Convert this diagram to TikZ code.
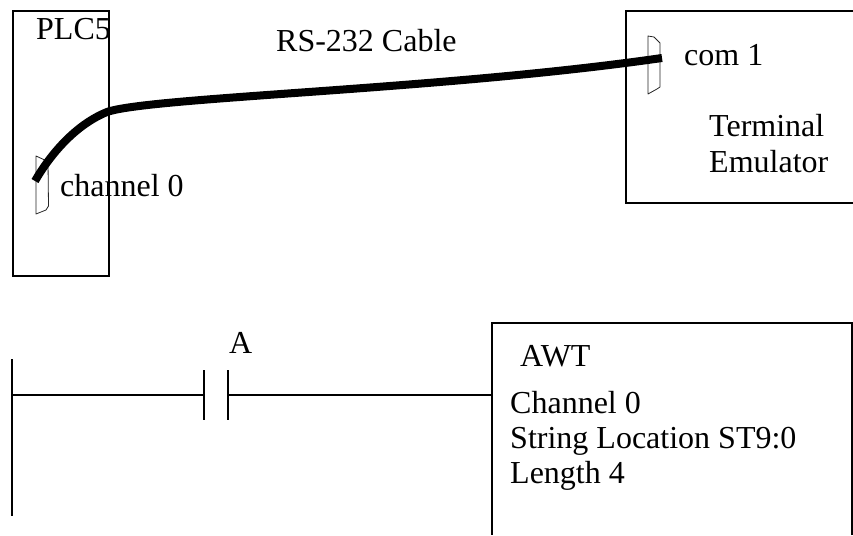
\documentclass[tikz,border=0pt]{standalone}
\usepackage{fontspec}
\setmainfont{Liberation Serif}
\tikzset{
  wire/.style={line width=2pt,line cap=butt},
  conn/.style={line width=0.8pt,line join=round,draw=black!85},
  cable/.style={line width=8pt,line cap=butt},
  lbl/.style={inner sep=0pt,anchor=base west,font=\fontsize{32}{38}\selectfont},
}
\begin{document}
\begin{tikzpicture}[x=1pt,y=-1pt]
\useasboundingbox (0,0) rectangle (853,535);
% PLC box
\node[draw,wire,anchor=north west,minimum width=96pt,minimum height=264pt,inner sep=0pt] (plc) at (11.5,10.5) {};
% terminal box (runs off the page)
\coordinate (t1) at (853,11);
\coordinate (t2) at (626,11);
\coordinate (t3) at (626,202.5);
\coordinate (t4) at (853,202.5);
\draw[wire] (t1) -- (t2) -- (t3) -- (t4);
% connectors
\draw[conn] (36,156) -- (48,161.5) -- (48.5,206) -- (46,210) -- (36,214) -- cycle;
\draw[conn] (648,36) -- (654,37) -- (660,43) -- (660,87) -- (657,89) -- (648,94) -- cycle;
% cable
\coordinate (ca) at (35,181);
\coordinate (cb) at (662,58);
\draw[cable] (ca) .. controls (50,155) and (75,125) .. (107,112)
  .. controls (150,97) and (440,90) .. (cb);
% labels
\node[lbl] (plclbl) at (36,40) {PLC5};
\node[lbl] (chlbl) at (60,196.5) {channel 0};
\node[lbl] (rslbl) at (276,52) {RS-232 Cable};
\node[lbl] (comlbl) at (684,65.5) {com 1};
\node[lbl] (termlbl) at (709,136.5) {Terminal};
\node[lbl] (emulbl) at (709,172) {Emulator};
% rung
\coordinate (railt) at (12,359);
\coordinate (railb) at (12,516);
\coordinate (rung) at (12,395);
\coordinate (cl) at (204,395);
\coordinate (cr) at (228,395);
\draw[wire] (railt) -- (railb);
\draw[wire] (204,370) -- (204,420);
\draw[wire] (228,370) -- (228,420);
\draw[wire] (rung) -- (cl);
\coordinate (awtl) at (492,395);
\draw[wire] (cr) -- (awtl);
\node[lbl] (alblb) at (229,353) {A};
% AWT box
\coordinate (a0) at (852,535);
\coordinate (a1) at (852,323);
\coordinate (a2) at (492,323);
\coordinate (a3) at (492,535);
\draw[wire] (a0) -- (a1) -- (a2) -- (a3);
\node[lbl] (awtlbl) at (520,366.5) {AWT};
\node[lbl] (c0) at (510,413.5) {Channel 0};
\node[lbl] (sl) at (510,448) {String Location ST9:0};
\node[lbl] (len) at (510,483) {Length 4};
\end{tikzpicture}
\end{document}
